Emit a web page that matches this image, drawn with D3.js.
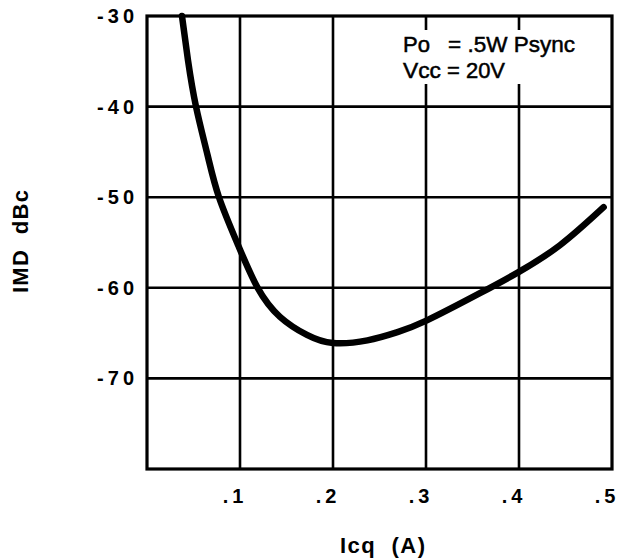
<!DOCTYPE html>
<html lang="en">
<head>
    <meta charset="UTF-8">
    <title>IMD vs Icq</title>
    <style>
        body { margin: 0; background: #fff; }
        svg text { font-family: "Liberation Sans", Arial, sans-serif; fill: #000; }
    </style>
</head>
<body>
    <svg class="imd_plot"></svg>
    <script src="https://d3js.org/d3.v7.min.js"></script>
    <script>
    // curve: Icq (A) -> IMD (dBc)
    const icq = [0.0376, 0.0441, 0.0527, 0.065, 0.0774, 0.098, 0.119, 0.143, 0.172, 0.2, 0.237, 0.269, 0.301, 0.358, 0.399, 0.444, 0.491];
    const imd = [-30, -34.9, -40, -45.3, -50, -55.3, -60, -63.2, -65.2, -66.1, -65.8, -64.9, -63.6, -60.6, -58.3, -55.3, -51.1];

    const x_ticks = [0.1, 0.2, 0.3, 0.4, 0.5];
    const x_tick_labels = [".1", ".2", ".3", ".4", ".5"];
    const y_ticks = [-30, -40, -50, -60, -70];
    const y_tick_labels = ["-30", "-40", "-50", "-60", "-70"];
    const note_lines = ["Po", "= .5W Psync", "Vcc", "= 20V"];

    const width = 621, height = 558;
    const margin = {top: 16, right: 9, bottom: 89, left: 147};

    let svg = d3.select(".imd_plot")
        .attr("width", width)
        .attr("height", height);

    let x_scale = d3.scaleLinear()
        .domain([0, 0.5])
        .range([margin.left, width - margin.right]);

    let y_scale = d3.scaleLinear()
        .domain([-80, -30])
        .range([height - margin.bottom, margin.top]);

    // grid
    let grid = svg.append("g").attr("stroke", "#000").attr("stroke-width", 2.6);
    grid.selectAll("line.v").data([0.1, 0.2, 0.3, 0.4]).enter()
        .append("line")
        .attr("class", "v")
        .attr("x1", d => x_scale(d)).attr("x2", d => x_scale(d))
        .attr("y1", y_scale(-30)).attr("y2", y_scale(-80));
    grid.selectAll("line.h").data([-40, -50, -60, -70]).enter()
        .append("line")
        .attr("class", "h")
        .attr("x1", x_scale(0)).attr("x2", x_scale(0.5))
        .attr("y1", d => y_scale(d)).attr("y2", d => y_scale(d));

    // frame
    svg.append("rect")
        .attr("x", x_scale(0)).attr("y", y_scale(-30))
        .attr("width", x_scale(0.5) - x_scale(0))
        .attr("height", y_scale(-80) - y_scale(-30))
        .attr("fill", "none")
        .attr("stroke", "#000")
        .attr("stroke-width", 3.2);

    // note box text, white behind it like the print
    let note_x = [403, 448, 403, 447];
    let note_y = [52, 52, 78, 78];
    let note_w = [27, 127, 38, 58];
    svg.append("rect")
        .attr("x", 400).attr("y", 30)
        .attr("width", 180).attr("height", 54)
        .attr("fill", "#fff");
    svg.selectAll("text.note").data(note_lines).enter()
        .append("text")
        .attr("class", "note")
        .attr("x", (d, i) => note_x[i])
        .attr("y", (d, i) => note_y[i])
        .attr("textLength", (d, i) => note_w[i])
        .attr("lengthAdjust", "spacingAndGlyphs")
        .style("font-size", "22px")
        .style("stroke", "#000")
        .style("stroke-width", 0.5)
        .text(d => d);

    // tick labels
    svg.selectAll("text.xt").data(x_ticks).enter()
        .append("text")
        .attr("class", "xt")
        .attr("x", d => x_scale(d) - 5)
        .attr("y", 503)
        .attr("text-anchor", "middle")
        .style("font-size", "20px")
        .style("font-weight", "bold")
        .style("letter-spacing", "4px")
        .text((d, i) => x_tick_labels[i]);

    svg.selectAll("text.yt").data(y_ticks).enter()
        .append("text")
        .attr("class", "yt")
        .attr("x", 138)
        .attr("y", d => y_scale(d) + 7)
        .attr("text-anchor", "end")
        .style("font-size", "20px")
        .style("font-weight", "bold")
        .style("letter-spacing", "4px")
        .text((d, i) => y_tick_labels[i]);

    // axis titles
    svg.append("text")
        .attr("x", 340).attr("y", 553)
        .attr("textLength", 85)
        .style("font-size", "22px")
        .style("font-weight", "bold")
        .attr("xml:space", "preserve")
        .text("Icq  (A)");

    svg.append("text")
        .attr("transform", "translate(28, 293) rotate(-90)")
        .attr("textLength", 103)
        .style("font-size", "22px")
        .style("font-weight", "bold")
        .attr("xml:space", "preserve")
        .text("IMD  dBc");

    // curve
    let line_gen = d3.line()
        .curve(d3.curveNatural)
        .x((d, i) => x_scale(icq[i]))
        .y(d => y_scale(d));

    svg.append("path")
        .datum(imd)
        .attr("d", line_gen)
        .attr("fill", "none")
        .attr("stroke", "#000")
        .attr("stroke-width", 6.5)
        .attr("stroke-linecap", "round");
    </script>
</body>
</html>
